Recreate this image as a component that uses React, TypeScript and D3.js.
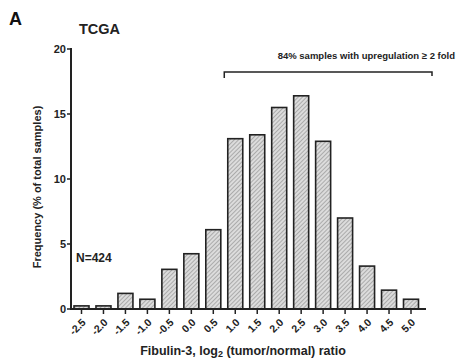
import React from 'react';
import * as d3 from 'd3';

const bins = [-2.5, -2.0, -1.5, -1.0, -0.5, 0.0, 0.5, 1.0, 1.5, 2.0, 2.5, 3.0, 3.5, 4.0, 4.5, 5.0];
const freq = [0.24, 0.24, 1.2, 0.75, 3.05, 4.25, 6.1, 13.1, 13.4, 15.5, 16.4, 12.9, 7.0, 3.3, 1.45, 0.75];
const yTicks = [0, 5, 10, 15, 20];

const FONT = '"Liberation Sans", Arial, sans-serif';

const App = () => {
  const width = 460;
  const height = 362;
  const x0 = 71;
  const xEnd = 426;
  const yBase = 309;

  const x = d3.scaleLinear().domain([-2.5, 5.0]).range([81.5, 411]);
  const y = d3.scaleLinear().domain([0, 20]).range([yBase, 49]);
  const barW = 15;

  return (
    <div style={{ position: 'absolute', left: 0, top: 0 }}>
      <svg width={width} height={height} style={{ display: 'block', fontFamily: FONT }}>
        <defs>
          <pattern id="hatch" width="3" height="3" patternUnits="userSpaceOnUse" patternTransform="rotate(45)">
            <rect width="3" height="3" fill="#dcdcdc" />
            <line x1="0" y1="0" x2="0" y2="3" stroke="#7a7a7a" strokeWidth="1" />
          </pattern>
        </defs>
        <rect width={width} height={height} fill="#fff" />

        <text x={9} y={25} fontSize={18} fontWeight="bold" fill="#111">A</text>
        <text x={79} y={34} fontSize={14.5} fontWeight="bold" fill="#222">TCGA</text>

        {bins.map((b, i) => (
          <rect key={b} x={x(b) - barW / 2} y={y(freq[i])} width={barW} height={yBase - y(freq[i])}
            fill="url(#hatch)" stroke="#222" strokeWidth={1.6} />
        ))}

        {/* axes */}
        <line x1={x0} x2={x0} y1={y(20) - 1} y2={yBase + 1} stroke="#222" strokeWidth={2} />
        <line x1={x0 - 1} x2={xEnd} y1={yBase} y2={yBase} stroke="#222" strokeWidth={2} />
        {yTicks.map(t => (
          <g key={t}>
            <line x1={x0 - 4} x2={x0} y1={y(t)} y2={y(t)} stroke="#222" strokeWidth={1.5} />
            <text x={x0 - 5} y={y(t) + 4} fontSize={11} fontWeight="bold" textAnchor="end" fill="#222">{t}</text>
          </g>
        ))}
        {bins.map(b => (
          <g key={b}>
            <line x1={x(b)} x2={x(b)} y1={yBase} y2={yBase + 5} stroke="#222" strokeWidth={1.5} />
            <text transform={`translate(${x(b) + 5},${yBase + 14}) rotate(-45)`} fontSize={10.5} fontWeight="bold"
              textAnchor="end" fill="#222">{b.toFixed(1)}</text>
          </g>
        ))}

        <text transform={`translate(41,${(y(20) + yBase) / 2 + 8}) rotate(-90)`} fontSize={11} fontWeight="bold"
          textAnchor="middle" fill="#222">Frequency (% of total samples)</text>
        <text x={243} y={355} fontSize={12.5} fontWeight="bold" textAnchor="middle" fill="#222">
          Fibulin-3, log<tspan fontSize={9} dy={2}>2</tspan><tspan dy={-2}> (tumor/normal) ratio</tspan>
        </text>

        <text x={76} y={262} fontSize={12} fontWeight="bold" fill="#222">N=424</text>

        {/* bracket */}
        <path d={`M${x(1.0) - 11},78 V72 H${xEnd + 6} V76`} fill="none" stroke="#222" strokeWidth={1.5} />
        <text x={455} y={59} fontSize={9.5} fontWeight="bold" textAnchor="end" fill="#222">
          84% samples with upregulation ≥ 2 fold
        </text>
      </svg>
    </div>
  );
};

export default App;
